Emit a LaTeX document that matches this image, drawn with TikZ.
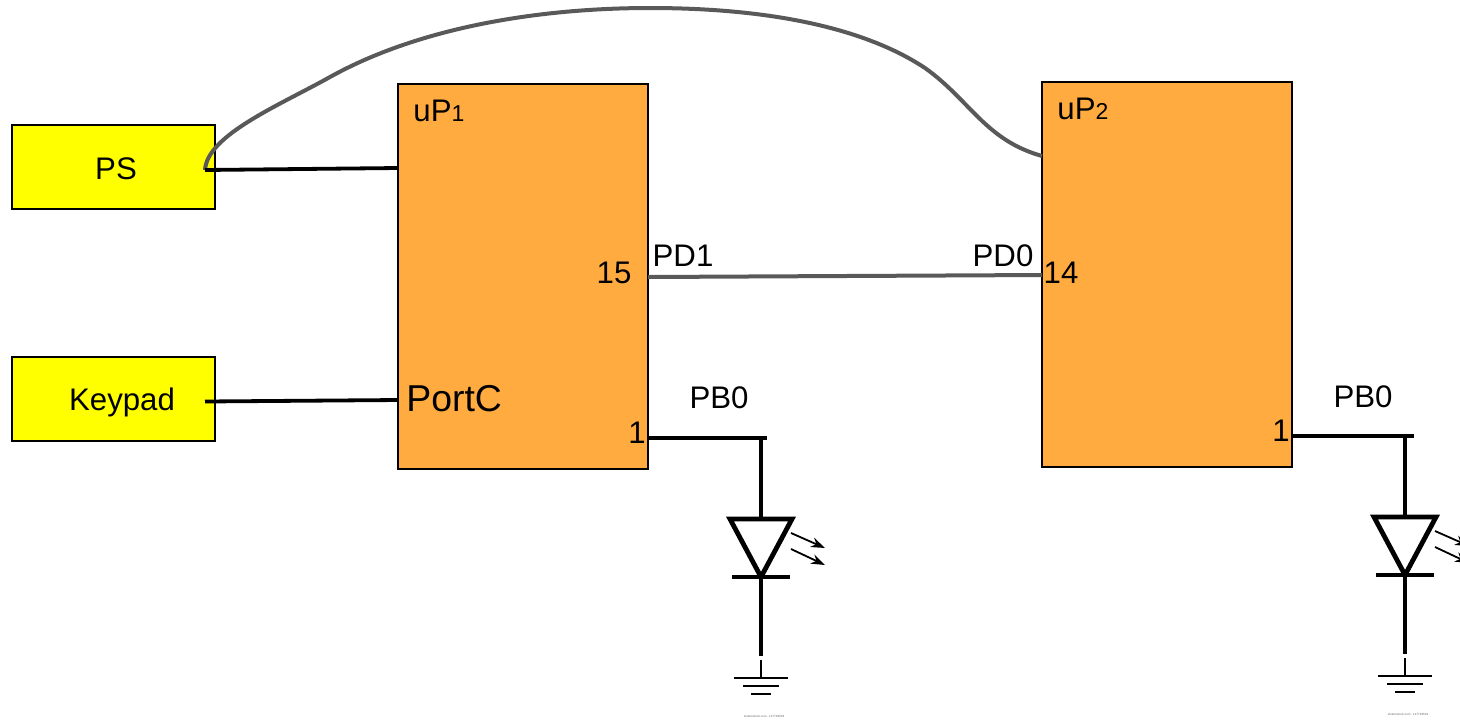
\documentclass[tikz,border=0pt]{standalone}
\usepackage{fontspec}
\setmainfont{Liberation Sans}
\usetikzlibrary{arrows.meta,positioning,calc}
\definecolor{procol}{HTML}{FFAB40}
\definecolor{inpcol}{HTML}{FFFF00}
\definecolor{buscol}{HTML}{595959}

\begin{document}
\begin{tikzpicture}[
  x=0.5pt, y=-0.5pt,
  proc/.style={draw=black, line width=0.6pt, fill=procol, minimum width=125pt, minimum height=192.5pt, inner sep=0pt, outer sep=0pt},
  inp/.style={draw=black, line width=0.6pt, fill=inpcol, minimum width=101.5pt, minimum height=42pt, inner sep=0pt, outer sep=0pt},
  lbl/.style={inner sep=0pt, font=\fontsize{15.6}{18}\selectfont},
  stock/.style={inner sep=0pt, text=black!60, font=\fontsize{1.5}{2}\selectfont},
  wire/.style={black, line width=1.9pt},
  bus/.style={buscol, line width=2pt},
  ledline/.style={black, line width=2.4pt},
  gnd/.style={black, line width=0.9pt}]

  \useasboundingbox (0,0) rectangle (1460,719);
  \clip (0,0) rectangle (1460,719);

  \node[inp] (ps) at (113.5,167) {};
  \node[inp] (keypad) at (113.5,399) {};
  \node[proc] (up1) at (523,276.5) {};
  \node[proc] (up2) at (1167,274.5) {};

  \node[lbl] (pslbl) at (116,169) {PS};
  \node[lbl] (keylbl) at (122,402.5) {Keypad};
  \node[lbl, anchor=west] (up1lbl) at (413,111) {uP{\fontsize{11.5}{12}\selectfont 1}};
  \node[lbl, anchor=west] (up2lbl) at (1057,109) {uP{\fontsize{11.5}{12}\selectfont 2}};
  \node[lbl, anchor=west, font=\fontsize{18.7}{20}\selectfont] (portc) at (406,399) {PortC};
  \node[lbl] (n15) at (614,273) {15};
  \node[lbl] (n14) at (1061,273) {14};
  \node[lbl] (pd1) at (683,256) {PD1};
  \node[lbl] (pd0) at (1003,256) {PD0};
  \node[lbl] (n1a) at (637,433) {1};
  \node[lbl] (n1b) at (1281,431) {1};
  \node[lbl] (pb0a) at (719,398) {PB0};
  \node[lbl] (pb0b) at (1363,397) {PB0};

  \coordinate (psout) at (205,170);
  \coordinate (keyout) at (205,401.5);
  \coordinate (up1ps) at (up1.west |- 0,168);
  \coordinate (up1key) at (up1.west |- 0,400);
  \coordinate (up1pd) at (up1.east |- 0,277);
  \coordinate (up2pd) at (up2.west |- 0,275);
  \coordinate (up2ps) at (up2.west |- 0,156);

  \draw[bus] (psout) .. controls (207,135) and (280,105) .. (330,77)
    .. controls (420,27) and (540,8) .. (650,8)
    .. controls (760,8) and (860,25) .. (925,68)
    .. controls (970,100) and (985,140) .. (up2ps);
  \draw[wire] (psout) -- (up1ps);
  \draw[wire] (keyout) -- (up1key);
  \draw[bus] (up1pd) -- (up2pd);

  % the two led branches
  \foreach \name/\px/\py in {a/761/438, b/1405/436} {
    \begin{scope}[shift={(\px,\py)}]
      \coordinate (top\name) at (0,0);
      \coordinate (tri\name) at (0,81);
      \coordinate (cat\name) at (0,139);
      \coordinate (end\name) at (0,218);
      \coordinate (gnd\name) at (0,222);
      \coordinate (sym\name) at (0,240);
      \draw[ledline] (top\name) -- (tri\name);
      \draw[ledline, line join=miter] (-31,81) -- (31,81) -- (cat\name) -- cycle;
      \draw[ledline] (-29,139) -- (29,139);
      \draw[ledline] (cat\name) -- (end\name);
      \draw[gnd] (gnd\name) -- (sym\name);
      \draw[gnd] (-27,240) -- (27,240);
      \draw[gnd] (-18,248) -- (18,248);
      \draw[gnd] (-10,256) -- (10,256);
      \draw[-{Stealth[length=7pt,width=5pt]}, line width=0.9pt] (30,95) -- (64,110);
      \draw[-{Stealth[length=7pt,width=5pt]}, line width=0.9pt] (30,111) -- (64,127);
      \node[stock] (stock\name) at (3,278) {shutterstock.com · 147749504};
    \end{scope}
  }
  \draw[wire] (up1.east |- topa) -- ($(topa)+(6,0)$);
  \draw[wire] (up2.east |- topb) -- ($(topb)+(9,0)$);
\end{tikzpicture}
\end{document}
